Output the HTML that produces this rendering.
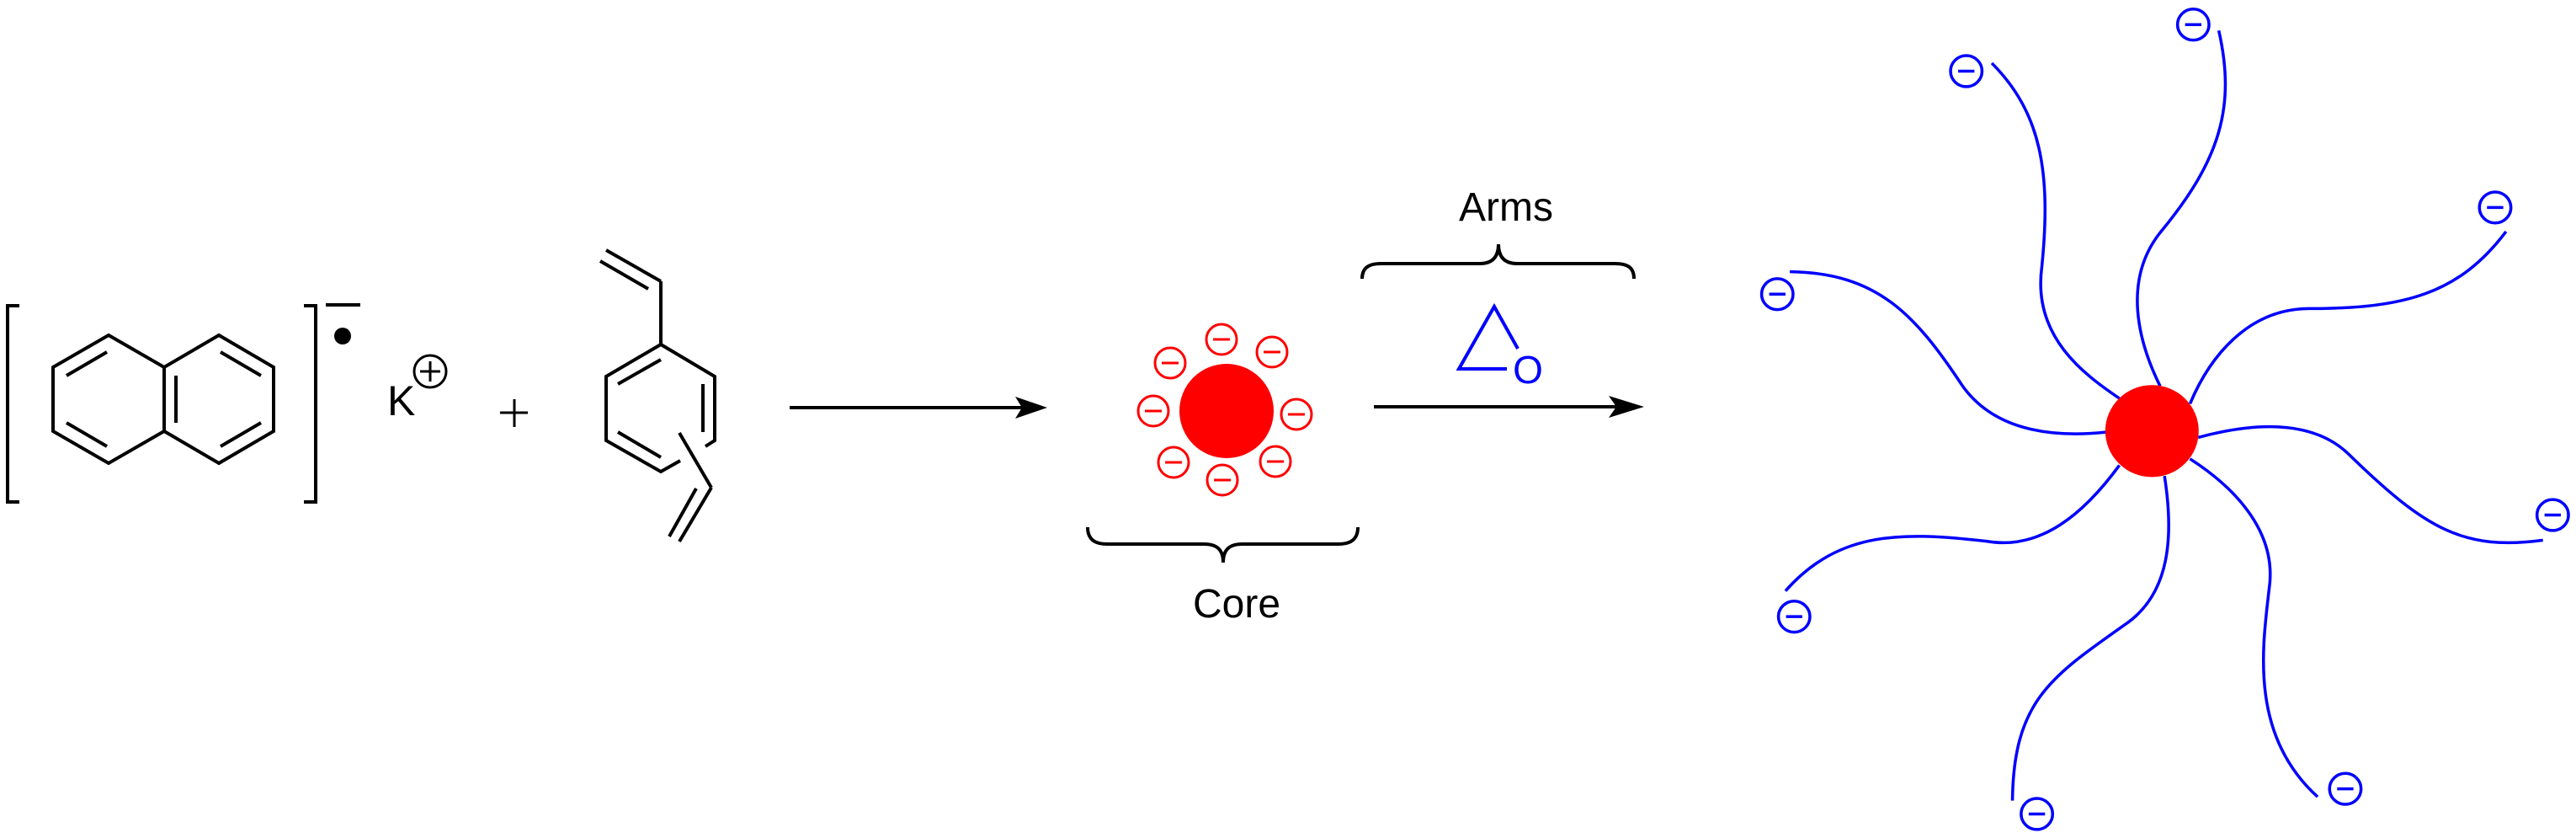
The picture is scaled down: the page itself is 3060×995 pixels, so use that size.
<!DOCTYPE html>
<html><head><meta charset="utf-8"><style>html,body{margin:0;padding:0;background:#fff}svg{display:block}</style></head>
<body>
<svg width="3060" height="995" viewBox="0 0 3060 995" xmlns="http://www.w3.org/2000/svg">
<g stroke="#000" stroke-width="4" fill="none" stroke-linecap="butt">
<polyline points="23,363 9,363 9,596 23,596"/>
<polyline points="361,363 375,363 375,596 361,596"/>
<line x1="387" y1="362" x2="428" y2="362"/>
<polygon points="129,398 195,436 195,512 129,550 63,512 63,436"/>
<polygon points="260,398 325,436 325,512 260,550 195,512 195,436"/>
<line x1="79" y1="446" x2="127" y2="418"/>
<line x1="79" y1="502" x2="127" y2="530"/>
<line x1="209" y1="446" x2="209" y2="502"/>
<line x1="262" y1="418" x2="310" y2="446"/>
<line x1="262" y1="530" x2="310" y2="502"/>
<line x1="594" y1="490" x2="627" y2="490" stroke-width="3"/>
<line x1="611" y1="474" x2="611" y2="507" stroke-width="3"/>
<polyline points="838,530 849,523 849,447 785,409 720,447 720,523 785,560 808,547"/>
<line x1="785" y1="427" x2="734" y2="456"/>
<line x1="835" y1="456" x2="835" y2="513"/>
<line x1="734" y1="513" x2="785" y2="543"/>
<line x1="785" y1="409" x2="785" y2="334"/>
<line x1="785" y1="334" x2="720" y2="297"/>
<line x1="770" y1="343" x2="713" y2="310"/>
<line x1="807" y1="514" x2="845" y2="579"/>
<line x1="845" y1="579" x2="807" y2="643"/>
<line x1="827" y1="580" x2="795" y2="637"/>
<line x1="938" y1="484" x2="1225" y2="484"/>
<line x1="1632" y1="483" x2="1930" y2="483"/>
<path d="M1292,626 C1292,640 1300,646 1315,646 L1430,646 C1445,646 1453,652 1453,668 C1453,652 1461,646 1476,646 L1590,646 C1605,646 1613,640 1613,626"/>
<path d="M1618,331 C1618,318 1626,313 1640,313 L1758,313 C1772,313 1780,306 1780,290 C1780,306 1788,313 1802,313 L1918,313 C1934,313 1941,318 1941,331"/>
</g>
<polygon points="1244,484 1206,471 1214,484 1206,497" fill="#000"/>
<polygon points="1953,483 1911,470 1920,483 1911,496" fill="#000"/>
<circle cx="407" cy="399" r="10" fill="#000"/>
<text x="460" y="493" font-family="Liberation Sans, sans-serif" font-size="50" fill="#000">K</text>
<circle cx="511" cy="441" r="19" fill="none" stroke="#000" stroke-width="3"/>
<line x1="499" y1="441" x2="523" y2="441" stroke="#000" stroke-width="3"/>
<line x1="511" y1="429" x2="511" y2="453" stroke="#000" stroke-width="3"/>
<text x="1469" y="733" text-anchor="middle" font-family="Liberation Sans, sans-serif" font-size="48" fill="#000">Core</text>
<text x="1789" y="262" text-anchor="middle" font-family="Liberation Sans, sans-serif" font-size="48" fill="#000">Arms</text>
<polyline points="1803,414 1775,364 1733,438 1790,438" fill="none" stroke="#0000ff" stroke-width="4"/>
<text x="1815" y="455" text-anchor="middle" font-family="Liberation Sans, sans-serif" font-size="46" fill="#0000ff">O</text>
<circle cx="1457" cy="488" r="56" fill="#ff0000"/>
<g fill="none" stroke="#ff0000" stroke-width="3">
<circle cx="1451" cy="403" r="18"/><line x1="1441" y1="403" x2="1461" y2="403"/>
<circle cx="1511" cy="418" r="18"/><line x1="1501" y1="418" x2="1521" y2="418"/>
<circle cx="1390" cy="431" r="18"/><line x1="1380" y1="431" x2="1400" y2="431"/>
<circle cx="1370" cy="488" r="18"/><line x1="1360" y1="488" x2="1380" y2="488"/>
<circle cx="1540" cy="492" r="18"/><line x1="1530" y1="492" x2="1550" y2="492"/>
<circle cx="1394" cy="549" r="18"/><line x1="1384" y1="549" x2="1404" y2="549"/>
<circle cx="1515" cy="548" r="18"/><line x1="1505" y1="548" x2="1525" y2="548"/>
<circle cx="1452" cy="570" r="18"/><line x1="1442" y1="570" x2="1462" y2="570"/>
</g>
<g transform="translate(2050,0) scale(0.645,0.635)">
<g fill="none" stroke="#0000ff" stroke-width="5.5">
<path d="M490,118 C580,210 600,320 582,500 C565,630 660,700 725,745"/>
<path d="M908,57 C940,200 910,300 800,435 C730,525 760,640 800,722"/>
<path d="M118,508 C280,510 350,590 435,720 C490,800 590,820 700,808"/>
<path d="M1437,433 C1350,550 1250,577 1075,577 C960,577 890,670 855,755"/>
<path d="M870,818 C990,785 1090,790 1150,852 C1290,990 1360,1030 1505,1010"/>
<path d="M855,858 C950,920 1010,1000 1002,1090 C990,1200 960,1370 1090,1490"/>
<path d="M808,890 C825,1000 820,1110 735,1168 C600,1265 530,1310 528,1497"/>
<path d="M725,870 C660,960 580,1030 480,1012 C330,995 210,990 110,1105"/>
<circle cx="861" cy="46" r="29"/><line x1="846" y1="46" x2="876" y2="46"/>
<circle cx="443" cy="133" r="29"/><line x1="428" y1="133" x2="458" y2="133"/>
<circle cx="95" cy="550" r="29"/><line x1="80" y1="550" x2="110" y2="550"/>
<circle cx="1417" cy="388" r="29"/><line x1="1402" y1="388" x2="1432" y2="388"/>
<circle cx="1523" cy="963" r="29"/><line x1="1508" y1="963" x2="1538" y2="963"/>
<circle cx="126" cy="1153" r="29"/><line x1="111" y1="1153" x2="141" y2="1153"/>
<circle cx="1141" cy="1475" r="29"/><line x1="1126" y1="1475" x2="1156" y2="1475"/>
<circle cx="573" cy="1522" r="29"/><line x1="558" y1="1522" x2="588" y2="1522"/>
</g>
<circle cx="785" cy="806" r="86" fill="#ff0000"/>
</g>
</svg>
</body></html>
